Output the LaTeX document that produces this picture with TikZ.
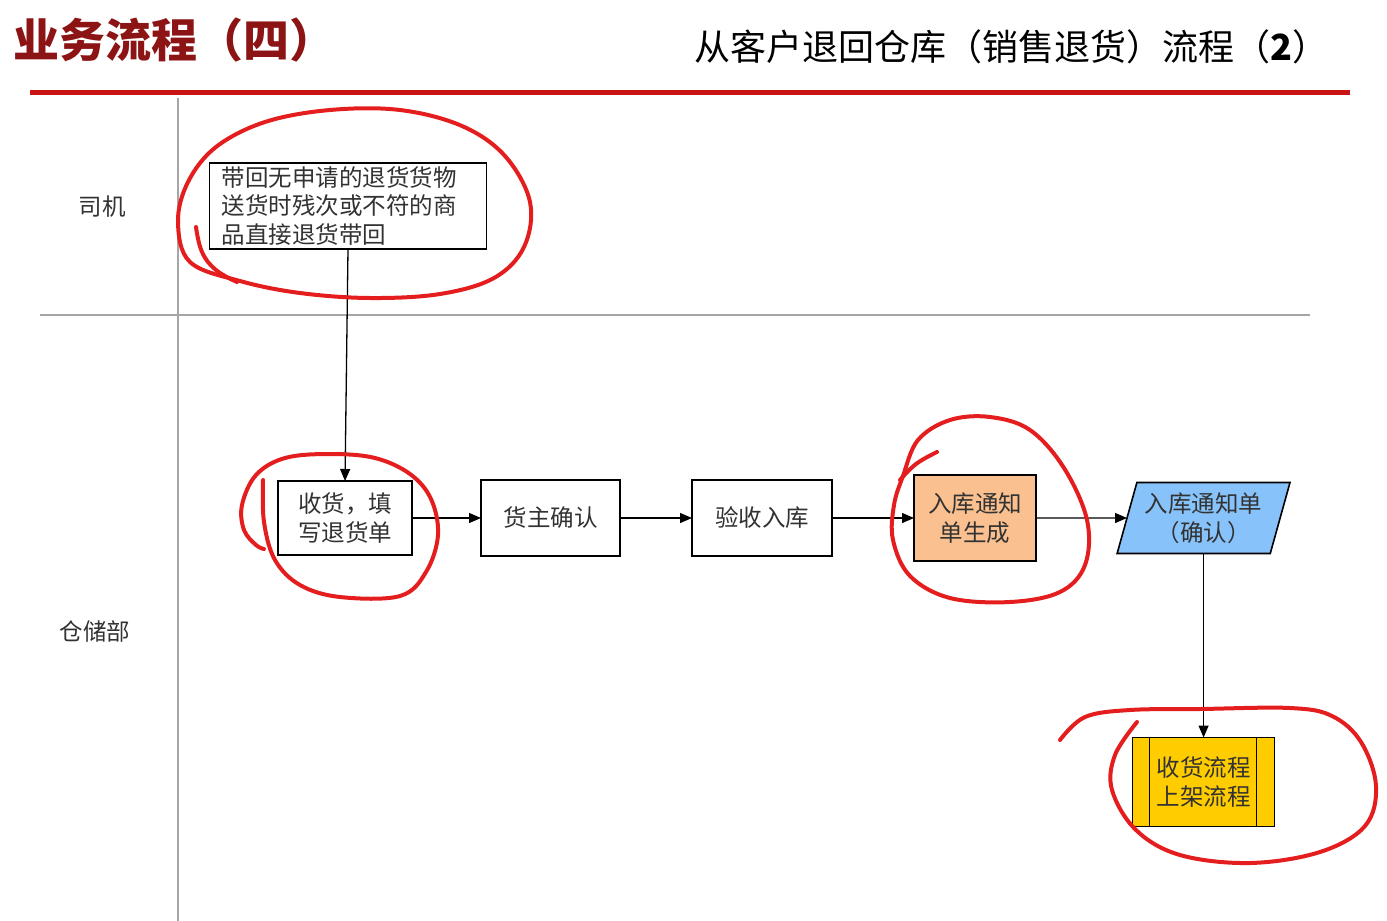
\documentclass[tikz,border=0pt]{standalone}
\usepackage{fontspec}
\setmainfont{Noto Sans CJK SC}
\usepackage{tikz}
\usetikzlibrary{shapes.geometric,arrows.meta,positioning,calc}
\definecolor{cTitle}{RGB}{140,20,20}
\definecolor{cRule}{RGB}{200,20,20}
\definecolor{cMark}{RGB}{228,30,30}
\definecolor{cOrange}{RGB}{250,192,143}
\definecolor{cBlue}{RGB}{135,195,250}
\definecolor{cYellow}{RGB}{255,204,0}
\definecolor{cText}{RGB}{50,50,50}
\newcommand{\boxfont}{\fontsize{23.5}{28.5}\selectfont}
\tikzset{
  basebox/.style={rectangle,draw=black,line width=1.6pt,align=center,
                  text=cText,font=\boxfont,inner sep=0pt,outer sep=0pt},
  whitenode/.style={basebox,fill=white,minimum width=139pt,
                    minimum height=76pt},
  orangenode/.style={basebox,fill=cOrange,minimum width=122pt,
                     minimum height=86pt},
  docnode/.style={basebox,trapezium,trapezium left angle=71,
                  trapezium right angle=109,trapezium stretches=true,
                  fill=cBlue,minimum width=173pt,minimum height=71pt},
  subnode/.style={basebox,fill=cYellow,minimum width=142pt,
                  minimum height=89pt},
  lanetext/.style={font=\boxfont,text=cText},
  laneline/.style={draw=gray!70,line width=1.2pt},
  arr/.style={-{Triangle[length=12pt,width=10pt]},line width=1.3pt},
  markline/.style={draw=cMark,line width=4pt,line cap=round,line join=round}
}
\begin{document}
\begin{tikzpicture}[x=1pt,y=-1pt,node distance=70pt and 70pt]
  \useasboundingbox (0,0) rectangle (1387,921);

  \node[anchor=west,text=cTitle,font=\fontsize{46}{52}\selectfont\bfseries]
      (ttlL) at (10,40) {业务流程（四）};
  \node[anchor=east,font=\fontsize{36}{42}\selectfont]
      (ttlR) at (1332,47) {从客户退回仓库（销售退货）流程（\textbf{2}）};
  \draw[cRule,line width=5pt] (30,92) -- (1350,92);

  \draw[laneline] (178,98) -- (178,921);
  \draw[laneline] (40,315) -- (1310,315);
  \node[lanetext] (lblDriver) at (102,207) {司机};
  \node[lanetext] (lblStore) at (95,631) {仓储部};

  \node[basebox,fill=white,align=left,text width=253pt,inner xsep=12pt,
        minimum height=86pt] (carry) at (348,206)
      {带回无申请的退货货物\\送货时残次或不符的商\\品直接退货带回};

  \node[whitenode,minimum width=134pt,minimum height=74pt] (recv) at (345,518)
      {收货，填\\写退货单};
  \node[whitenode,right=69pt of recv] (owner) {货主确认};
  \node[whitenode,right=72pt of owner,minimum width=140pt] (check) {验收入库};
  \node[orangenode,right=82pt of check] (notice) {入库通知\\单生成};
  \node[docnode,right=91pt of notice] (noticedoc) {入库通知单\\（确认）};
  \node[subnode,below=184pt of noticedoc] (putaway) {收货流程\\上架流程};
  \draw[line width=1.6pt] ($(putaway.north west)+(17,0)$) -- ($(putaway.south west)+(17,0)$);
  \draw[line width=1.6pt] ($(putaway.north east)+(-18,0)$) -- ($(putaway.south east)+(-18,0)$);

  \draw[arr] (carry.south) -- (recv.north);
  \draw[arr] (recv) -- (owner);
  \draw[arr] (owner) -- (check);
  \draw[arr] (check) -- (notice);
  \draw[arr] (notice) -- (noticedoc);
  \draw[arr] (noticedoc.south) -- (putaway.north);

  \draw[markline] plot[smooth cycle,tension=0.6] coordinates {(190,262) (178,222)
      (188,182) (216,147) (265,122) (330,110) (400,110) (462,126) (505,156)
      (530,202) (524,247) (494,278) (440,294) (370,298) (300,293) (240,281)};
  \draw[markline] plot[smooth,tension=0.7] coordinates {(196,227) (202,252)
      (216,270) (237,282)};
  \draw[markline] plot[smooth,tension=0.6] coordinates {(263,480) (264,522)
      (275,560) (300,585) (340,597) (400,596) (426,572) (438,535) (431,499)
      (410,474) (375,458) (330,454) (285,458) (256,475) (242,505) (244,530)
      (256,545) (264,549)};
  \draw[markline] plot[smooth cycle,tension=0.6] coordinates {(903,476)
      (918,440) (950,420) (990,417) (1030,430) (1064,468) (1087,520)
      (1085,565) (1060,592) (1010,602) (950,598) (910,576) (893,540) (894,505)};
  \draw[markline] plot[smooth,tension=0.7] coordinates {(937,452) (916,464)
      (900,480)};
  \draw[markline] plot[smooth,tension=0.6] coordinates {(1060,740) (1085,717)
      (1130,710) (1200,709) (1290,708) (1332,716) (1361,742) (1376,786)
      (1365,826) (1320,852) (1250,863) (1180,855) (1136,830) (1112,790)
      (1115,755) (1137,722)};
\end{tikzpicture}
\end{document}
